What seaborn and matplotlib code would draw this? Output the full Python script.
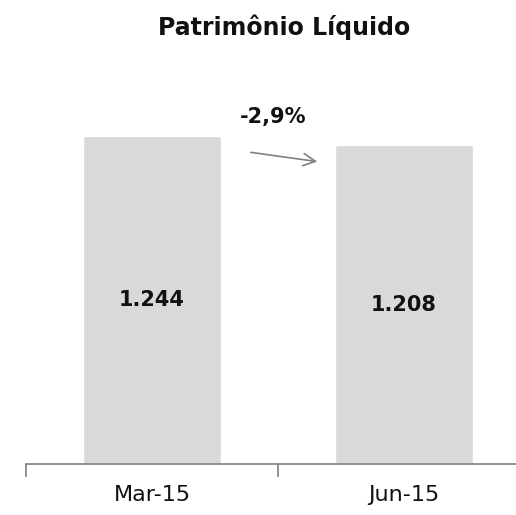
import matplotlib
matplotlib.use("Agg")
import matplotlib.pyplot as plt
import seaborn as sns

# dados (R$ milhões)
periodos = ["Mar-15", "Jun-15"]
valores = [1244, 1208]
variacao = "-2,9%"

sns.set_theme(style="white")
plt.rcParams['font.family'] = ['DejaVu Sans']

fig = plt.figure(figsize=(5.16, 5.15), dpi=100)
ax = fig.add_axes([26 / 516, 51 / 515, 504 / 516, 364 / 515])

sns.barplot(x=periodos, y=valores, color="#d9d9d9", saturation=1, width=0.545, ax=ax)

# rótulos dentro das barras
rotulos = [f"{v:,}".replace(",", ".") for v in valores]
ax.bar_label(ax.containers[0], labels=rotulos, label_type="center",
             fontsize=15, fontweight="bold", color="#111111")

ax.set_xlim(-0.5, 1.5)
ax.set_ylim(0, 1380)
ax.set_xlabel("")
ax.set_ylabel("")
ax.set_yticks([])

# eixo x com ticks entre as categorias
ax.set_xticks([-0.5, 0.5, 1.5], minor=False)
ax.set_xticklabels([])
ax.set_xticks([0, 1], minor=True)
ax.set_xticklabels(periodos, minor=True, fontsize=16, color="#111111")
ax.tick_params(axis="x", which="major", length=9, width=1.2, color="#808080", direction="out", bottom=True)
ax.tick_params(axis="x", which="minor", length=0, pad=15)

for s in ["top", "left", "right"]:
    ax.spines[s].set_visible(False)
ax.spines["bottom"].set_color("#808080")
ax.spines["bottom"].set_linewidth(1.2)

# seta de variação
ax.annotate("", xy=(0.667, 1145), xytext=(0.381, 1183),
            arrowprops=dict(arrowstyle="->", color="#808080", lw=1.2, mutation_scale=22))
ax.text(0.48, 1316, variacao, ha="center", va="center", fontsize=15, fontweight="bold", color="#111111")

fig.text(284 / 516, 1 - 27 / 515, "Patrimônio Líquido", ha="center", va="center",
         fontsize=17, fontweight="bold", color="#111111")

fig.savefig("out.png", dpi=100)
